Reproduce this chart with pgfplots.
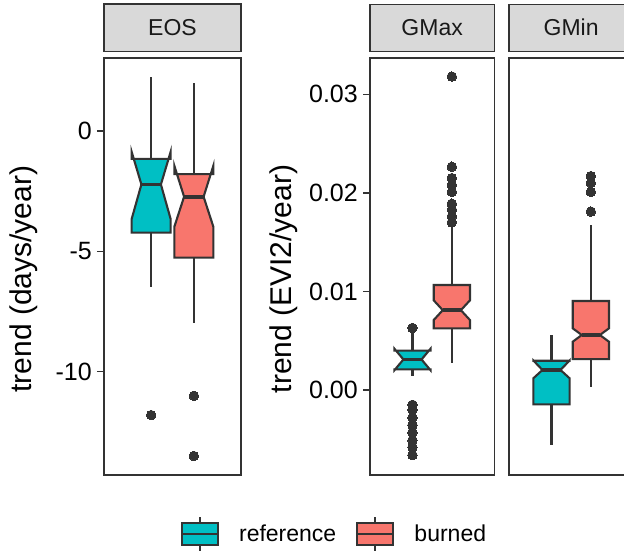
\documentclass[border=0pt]{standalone}
\usepackage{pgfplots}
\pgfplotsset{compat=1.18}
\usepackage{fontspec}
\setmainfont{Liberation Sans}
\definecolor{gtwenty}{HTML}{333333}
\definecolor{stripfill}{HTML}{D9D9D9}
\definecolor{cref}{HTML}{00BFC4}
\definecolor{cburn}{HTML}{F8766D}
\pgfplotsset{
  panel/.style={
    scale only axis, anchor=south west, height=417pt,
    xmin=0.4, xmax=1.6, xtick=\empty,
    axis line style={gtwenty, line width=1.5pt},
    every tick/.style={gtwenty, line width=1.5pt},
    tick align=outside, major tick length=7pt,
    ytick pos=left, clip=false,
    yticklabel style={font=\fontsize{25}{29}\selectfont, text=black, inner sep=0pt, xshift=-5pt},
    ylabel style={font=\fontsize{30}{35}\selectfont, anchor=center},
    title style={at={(0.5,1)}, anchor=south, fill=stripfill, draw=gtwenty, line width=1.5pt,
      minimum height=47pt, inner sep=0pt, font=\fontsize{23}{27}\selectfont, text=black!90},
  },
  boxs/.style={draw=gtwenty, line width=2.1pt, forget plot},
  whisk/.style={gtwenty, line width=2.1pt, forget plot},
  medl/.style={gtwenty, line width=3.6pt, forget plot},
  outl/.style={only marks, mark=*, mark size=4.8pt, gtwenty, mark options={fill=gtwenty, draw=gtwenty, line width=0pt}, forget plot},
}
\begin{document}
\begin{tikzpicture}[x=1pt,y=1pt]
\useasboundingbox (0,0) rectangle (624,550);
% ---------------- EOS ----------------
\begin{axis}[panel, at={(104pt,75pt)}, width=137pt, title style={minimum width=137pt},
  title={EOS}, ymin=-14.29, ymax=3.033,
  ytick={-10,-5,0}, yticklabels={-10,-5,0},
  ylabel={trend (days/year)}, ylabel style={at={(axis description cs:-0.584,0.47)}},
  legend style={at={(0.56,-0.1415)}, anchor=west, draw=none, fill=none, inner sep=0pt,
    column sep=20pt, legend columns=-1, font=\fontsize{23}{27}\selectfont,
    nodes={inner sep=0pt}},
  legend cell align=left]
% reference
\addplot[whisk] coordinates {(0.813,-1.16) (0.813,2.24)};
\addplot[whisk] coordinates {(0.813,-4.22) (0.813,-6.47)};
\addplot[boxs, fill=cref] coordinates {(0.642,-1.16) (0.642,-0.86) (0.7275,-2.22) (0.642,-3.66) (0.642,-4.22) (0.984,-4.22) (0.984,-3.66) (0.8985,-2.22) (0.984,-0.86) (0.984,-1.16)} -- cycle;
\addplot[medl] coordinates {(0.7275,-2.22) (0.8985,-2.22)};
\addplot[outl] coordinates {(0.813,-11.8)};
% burned
\addplot[whisk] coordinates {(1.187,-1.79) (1.187,1.98)};
\addplot[whisk] coordinates {(1.187,-5.26) (1.187,-7.96)};
\addplot[boxs, fill=cburn] coordinates {(1.016,-1.79) (1.016,-1.44) (1.1015,-2.73) (1.016,-3.98) (1.016,-5.26) (1.358,-5.26) (1.358,-3.98) (1.2725,-2.73) (1.358,-1.44) (1.358,-1.79)} -- cycle;
\addplot[medl] coordinates {(1.1015,-2.73) (1.2725,-2.73)};
\addplot[outl] coordinates {(1.187,-11.0) (1.187,-13.5)};
% legend
\addlegendimage{legend image code/.code={
  \draw[gtwenty, line width=1.8pt] (18pt,-17pt) -- (18pt,17pt);
  \draw[gtwenty, line width=2pt, fill=cref] (0pt,-11pt) rectangle (36pt,11pt);
  \draw[gtwenty, line width=2.2pt] (0pt,0pt) -- (36pt,0pt);}}
\addlegendentry{reference}
\addlegendimage{legend image code/.code={
  \draw[gtwenty, line width=1.8pt] (18pt,-17pt) -- (18pt,17pt);
  \draw[gtwenty, line width=2pt, fill=cburn] (0pt,-11pt) rectangle (36pt,11pt);
  \draw[gtwenty, line width=2.2pt] (0pt,0pt) -- (36pt,0pt);}}
\addlegendentry{burned}
\end{axis}
% ---------------- GMax ----------------
\begin{axis}[panel, at={(370pt,75pt)}, width=124.3pt, title style={minimum width=124.3pt},
  title={GMax}, ymin=-0.00862, ymax=0.03368,
  ytick={0,0.01,0.02,0.03}, yticklabels={0.00,0.01,0.02,0.03},
  ylabel={trend (EVI2/year)}, ylabel style={at={(axis description cs:-0.692,0.47)}}]
% reference
\addplot[whisk] coordinates {(0.81,0.0041) (0.81,0.0058)};
\addplot[whisk] coordinates {(0.81,0.0021) (0.81,0.00142)};
\addplot[boxs, fill=cref] coordinates {(0.635,0.0040) (0.635,0.0042) (0.7225,0.0031) (0.635,0.0020) (0.635,0.0021) (0.985,0.0021) (0.985,0.0020) (0.8975,0.0031) (0.985,0.0042) (0.985,0.0040)} -- cycle;
\addplot[medl] coordinates {(0.7225,0.0031) (0.8975,0.0031)};
\addplot[outl] coordinates {(0.81,0.0063) (0.81,-0.0015) (0.81,-0.0020) (0.81,-0.0028) (0.81,-0.00355) (0.81,-0.0043) (0.81,-0.0051) (0.81,-0.0058) (0.81,-0.0066)};
% burned
\addplot[whisk] coordinates {(1.19,0.01065) (1.19,0.0166)};
\addplot[whisk] coordinates {(1.19,0.00626) (1.19,0.00277)};
\addplot[boxs, fill=cburn] coordinates {(1.015,0.01065) (1.015,0.0091) (1.1025,0.0081) (1.015,0.0071) (1.015,0.00626) (1.365,0.00626) (1.365,0.0071) (1.2775,0.0081) (1.365,0.0091) (1.365,0.01065)} -- cycle;
\addplot[medl] coordinates {(1.1025,0.0081) (1.2775,0.0081)};
\addplot[outl] coordinates {(1.19,0.0318) (1.19,0.02265) (1.19,0.0215) (1.19,0.0208) (1.19,0.0201) (1.19,0.0189) (1.19,0.0183) (1.19,0.0176) (1.19,0.0170)};
\end{axis}
% ---------------- GMin ----------------
\begin{axis}[panel, at={(509pt,75pt)}, width=124.3pt, title style={minimum width=124.3pt},
  title={GMin}, ymin=-0.00862, ymax=0.03368, ytick=\empty]
% reference
\addplot[whisk] coordinates {(0.81,0.00297) (0.81,0.00558)};
\addplot[whisk] coordinates {(0.81,-0.00145) (0.81,-0.00558)};
\addplot[boxs, fill=cref] coordinates {(0.635,0.00297) (0.635,0.0030) (0.7225,0.00203) (0.635,0.00119) (0.635,-0.00145) (0.985,-0.00145) (0.985,0.00119) (0.8975,0.00203) (0.985,0.0030) (0.985,0.00297)} -- cycle;
\addplot[medl] coordinates {(0.7225,0.00203) (0.8975,0.00203)};
% burned
\addplot[whisk] coordinates {(1.19,0.00903) (1.19,0.01673)};
\addplot[whisk] coordinates {(1.19,0.00314) (1.19,0.00034)};
\addplot[boxs, fill=cburn] coordinates {(1.015,0.00903) (1.015,0.00626) (1.1025,0.00558) (1.015,0.0049) (1.015,0.00314) (1.365,0.00314) (1.365,0.0049) (1.2775,0.00558) (1.365,0.00626) (1.365,0.00903)} -- cycle;
\addplot[medl] coordinates {(1.1025,0.00558) (1.2775,0.00558)};
\addplot[outl] coordinates {(1.19,0.0217) (1.19,0.0210) (1.19,0.0201) (1.19,0.0181)};
\end{axis}
\end{tikzpicture}
\end{document}
